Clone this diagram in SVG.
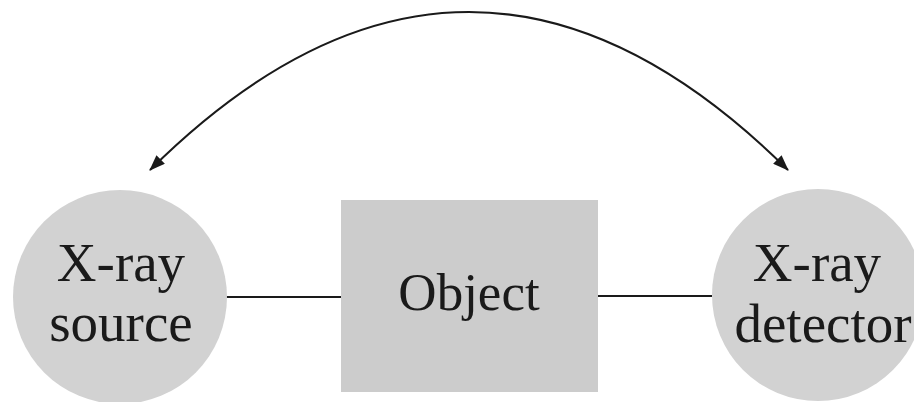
<svg xmlns="http://www.w3.org/2000/svg" width="914" height="402" viewBox="0 0 914 402">
<style>
.node{fill:#d2d2d2;stroke:none}
.lbl{font-family:"Liberation Serif","Times New Roman",serif;font-size:55px;fill:#1a1a1a;text-anchor:middle}
.conn{fill:none;stroke:#1a1a1a;stroke-width:2}
</style>
<defs>
<marker id="ah" viewBox="0 0 16 12" refX="15" refY="6" markerWidth="16" markerHeight="12" markerUnits="userSpaceOnUse" orient="auto-start-reverse">
<path d="M0,0 L16,6 L0,12 z" fill="#1a1a1a"/>
</marker>
</defs>
<rect width="914" height="402" fill="#ffffff"/>
<g id="connectors">
<line class="conn" x1="226" y1="297" x2="341" y2="297"/>
<line class="conn" x1="598" y1="296" x2="712" y2="296"/>
<path class="conn" d="M150,170 Q469,-146 788,170" marker-start="url(#ah)" marker-end="url(#ah)"/>
</g>
<g id="xray-source">
<circle class="node" cx="120" cy="297" r="107"/>
<text class="lbl" x="121" y="281">X-ray</text>
<text class="lbl" x="121" y="341">source</text>
</g>
<g id="object">
<rect x="341" y="200" width="257" height="192" style="fill:#cccccc"/>
<text class="lbl" x="469" y="310" style="font-size:53px">Object</text>
</g>
<g id="xray-detector">
<circle class="node" cx="818" cy="295" r="106"/>
<text class="lbl" x="817" y="281">X-ray</text>
<text class="lbl" x="823" y="342">detector</text>
</g>
</svg>
